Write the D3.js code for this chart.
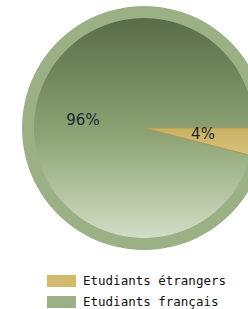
<!DOCTYPE html>
<html>
<head>
<meta charset="utf-8">
<script src="https://cdn.jsdelivr.net/npm/d3@7"></script>
<style>
  body { margin: 0; background: #fff; }
  svg { display: block; }
</style>
</head>
<body>
<svg width="248" height="309"></svg>
<script>
// categories and their shares (percent)
const categories = ['Etudiants étrangers', 'Etudiants français'];
const values = [4, 96];
const labels = ['4%', '96%'];
const colors = ['#d2ba6c', '#9bb084'];

const svg = d3.select('svg');
const cx = 144, cy = 128;
const outerR = 122, innerR = 110;

const defs = svg.append('defs');
const grad = defs.append('linearGradient')
    .attr('id', 'g-fr').attr('x1', 0).attr('y1', 0).attr('x2', 0).attr('y2', 1);
grad.append('stop').attr('offset', '0%').attr('stop-color', '#5a6c48');
grad.append('stop').attr('offset', '55%').attr('stop-color', '#8fa576');
grad.append('stop').attr('offset', '100%').attr('stop-color', '#d2ddc6');

const gradGold = defs.append('linearGradient')
    .attr('id', 'g-et').attr('x1', 0).attr('y1', 0).attr('x2', 0).attr('y2', 1);
gradGold.append('stop').attr('offset', '0%').attr('stop-color', '#c9b163');
gradGold.append('stop').attr('offset', '100%').attr('stop-color', '#d8c27a');

const pie = d3.pie().sort(null)
    .startAngle(Math.PI / 2).endAngle(Math.PI / 2 + 2 * Math.PI);
const arcs = pie(values);

const chart = svg.append('g').attr('transform', `translate(${cx},${cy})`);

// outer rim
const outerArc = d3.arc().innerRadius(0).outerRadius(outerR);
chart.selectAll('path.rim')
    .data(arcs)
    .join('path')
    .attr('class', 'rim')
    .attr('d', outerArc)
    .attr('fill', (d, i) => colors[i]);

// inner face with gradient
const innerArc = d3.arc().innerRadius(0).outerRadius(innerR);
chart.selectAll('path.face')
    .data(arcs)
    .join('path')
    .attr('class', 'face')
    .attr('d', innerArc)
    .attr('fill', (d, i) => i === 0 ? 'url(#g-et)' : 'url(#g-fr)');

// separator lines
chart.selectAll('path.edge')
    .data(arcs.slice(0, 1))
    .join('path')
    .attr('class', 'edge')
    .attr('d', outerArc)
    .attr('fill', 'none')
    .attr('stroke', '#a89550')
    .attr('stroke-width', 0.8);

// percent labels
const labelPos = [[59, 6], [-61, -8]];
chart.selectAll('text.pct')
    .data(labels)
    .join('text')
    .attr('class', 'pct')
    .attr('x', (d, i) => labelPos[i][0])
    .attr('y', (d, i) => labelPos[i][1])
    .attr('text-anchor', 'middle')
    .attr('dominant-baseline', 'middle')
    .style('font-family', 'DejaVu Sans, sans-serif')
    .style('font-size', '15px')
    .style('fill', '#1c2634')
    .text(d => d);

// legend
const legend = svg.append('g').attr('transform', 'translate(47,275)');
const rows = legend.selectAll('g')
    .data(categories)
    .join('g')
    .attr('transform', (d, i) => `translate(0,${i * 21})`);
rows.append('rect')
    .attr('width', 29).attr('height', 12)
    .attr('fill', (d, i) => colors[i]);
rows.append('text')
    .attr('x', 36).attr('y', 10)
    .style('font-family', 'DejaVu Sans Mono, monospace')
    .style('font-size', '12.5px')
    .style('fill', '#111')
    .text(d => d);
</script>
</body>
</html>
